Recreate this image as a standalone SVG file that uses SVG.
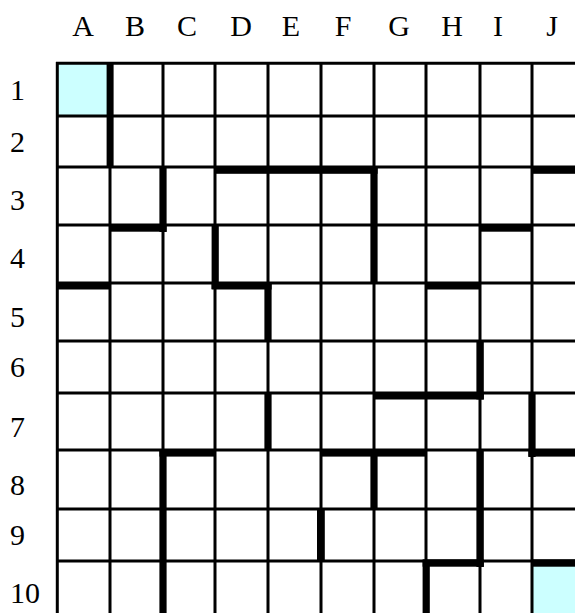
<svg xmlns="http://www.w3.org/2000/svg" width="575" height="613" viewBox="0 0 575 613">
<style>
.lbl{font-family:"Liberation Serif","Times New Roman",serif;font-size:30px;fill:#000}
.col{text-anchor:middle}
.grid line{stroke:#000;stroke-width:3}
.wall{fill:#000}
.goal{fill:#ccffff}
</style>
<rect width="575" height="613" fill="#fff"/>
<g id="column-labels" class="lbl col">
<text x="83" y="36">A</text>
<text x="135" y="36">B</text>
<text x="187" y="36">C</text>
<text x="241" y="36">D</text>
<text x="291" y="36">E</text>
<text x="343" y="36">F</text>
<text x="399" y="36">G</text>
<text x="452" y="36">H</text>
<text x="498" y="36">I</text>
<text x="552" y="36">J</text>
</g>
<g id="row-labels" class="lbl">
<text x="10" y="100">1</text>
<text x="10" y="152">2</text>
<text x="10" y="210">3</text>
<text x="10" y="268">4</text>
<text x="10" y="327">5</text>
<text x="10" y="377">6</text>
<text x="10" y="437">7</text>
<text x="10" y="495">8</text>
<text x="10" y="545">9</text>
<text x="10" y="603">10</text>
</g>
<g id="start-cell"><rect class="goal" x="57" y="63" width="53" height="53"/></g>
<g id="end-cell"><rect class="goal" x="532" y="561" width="53" height="58"/></g>
<g id="grid" class="grid">
<line x1="57.3" y1="62" x2="57.3" y2="619"/>
<line x1="110" y1="62" x2="110" y2="619"/>
<line x1="163" y1="62" x2="163" y2="619"/>
<line x1="215" y1="62" x2="215" y2="619"/>
<line x1="268" y1="62" x2="268" y2="619"/>
<line x1="321" y1="62" x2="321" y2="619"/>
<line x1="374" y1="62" x2="374" y2="619"/>
<line x1="426" y1="62" x2="426" y2="619"/>
<line x1="480" y1="62" x2="480" y2="619"/>
<line x1="532" y1="62" x2="532" y2="619"/>
<line x1="56" y1="63.3" x2="585" y2="63.3"/>
<line x1="56" y1="116" x2="585" y2="116"/>
<line x1="56" y1="167" x2="585" y2="167"/>
<line x1="56" y1="225" x2="585" y2="225"/>
<line x1="56" y1="283" x2="585" y2="283"/>
<line x1="56" y1="341" x2="585" y2="341"/>
<line x1="56" y1="393" x2="585" y2="393"/>
<line x1="56" y1="450" x2="585" y2="450"/>
<line x1="56" y1="509" x2="585" y2="509"/>
<line x1="56" y1="561" x2="585" y2="561"/>
</g>
<g id="walls" class="wall">
<rect x="106.6" y="63" width="7" height="104"/>
<rect x="159.4" y="167" width="7.2" height="65"/>
<rect x="370.4" y="167" width="7.2" height="116"/>
<rect x="211.6" y="225" width="7.2" height="64"/>
<rect x="264.4" y="283" width="7.2" height="58"/>
<rect x="476.4" y="341" width="7.4" height="58.5"/>
<rect x="264.4" y="393" width="7.2" height="57"/>
<rect x="528.4" y="393" width="7.2" height="64"/>
<rect x="159.4" y="450" width="7.2" height="169"/>
<rect x="370.4" y="450" width="7.2" height="59"/>
<rect x="476.4" y="450" width="7.4" height="117"/>
<rect x="317" y="509" width="7.8" height="52"/>
<rect x="422.6" y="561" width="7.2" height="58"/>
<rect x="215" y="166.5" width="162.6" height="7.3"/>
<rect x="532" y="166.5" width="53" height="7.3"/>
<rect x="110" y="224.5" width="56.6" height="7.2"/>
<rect x="480" y="224.5" width="52" height="7.2"/>
<rect x="57" y="282.5" width="53" height="7"/>
<rect x="211.6" y="282.5" width="60" height="7"/>
<rect x="426" y="282.5" width="54" height="7"/>
<rect x="374" y="392.5" width="109.8" height="7"/>
<rect x="159.4" y="449.3" width="55.6" height="7.3"/>
<rect x="321" y="449.3" width="105" height="7.3"/>
<rect x="528.4" y="449.3" width="56.6" height="7.3"/>
<rect x="422.6" y="559.3" width="61.2" height="7.4"/>
<rect x="532" y="559.3" width="53" height="7.4"/>
</g>
</svg>
